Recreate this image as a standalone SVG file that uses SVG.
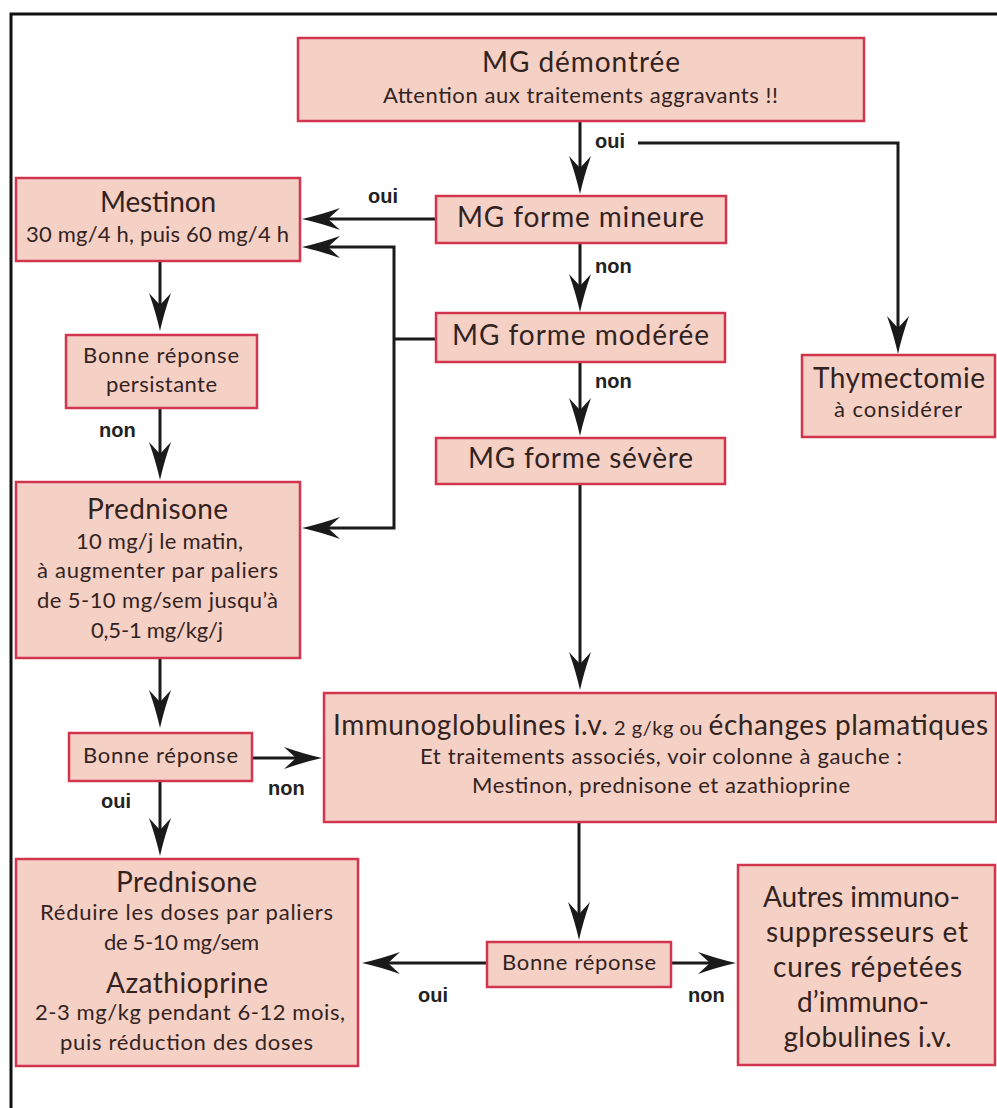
<svg xmlns="http://www.w3.org/2000/svg" width="997" height="1108" viewBox="0 0 997 1108">
<style>
.box{fill:#F5D0C5;stroke:#D2364F;stroke-width:2.5}
.t{font-family:Lato,"Liberation Sans",sans-serif;fill:#33231f;text-anchor:middle}
.big{font-size:28px}
.med{font-size:22px}
.lab{font-family:"Liberation Sans",Arial,sans-serif;font-weight:bold;font-size:20px;fill:#222}
.ln{fill:none;stroke:#1a1a1a;stroke-width:3}
.ar{marker-end:url(#ah)}
</style>
<defs>
<marker id="ah" markerUnits="userSpaceOnUse" viewBox="-14 -12 42 24" refX="0" refY="0" markerWidth="42" markerHeight="24" orient="auto" overflow="visible">
<path d="M26,0 Q8,-4 -12,-11 L0,0 L-12,11 Q8,4 26,0 Z" fill="#1a1a1a"/>
</marker>
</defs>
<rect width="997" height="1108" fill="#fff"/>
<path d="M11,1108 V14 H997" fill="none" stroke="#111" stroke-width="3"/>

<g id="connectors">
<path class="ln ar" d="M580,121 V168"/>
<path class="ln ar" d="M638,143 H898 V328"/>
<path class="ln ar" d="M580,243 V286"/>
<path class="ln ar" d="M580,362 V410"/>
<path class="ln ar" d="M580,484 V664"/>
<path class="ln ar" d="M436,219 H328"/>
<path class="ln" d="M436,339 H394"/>
<path class="ln ar" d="M394,339 V247 H328"/>
<path class="ln ar" d="M394,339 V528 H328"/>
<path class="ln ar" d="M160,261 V305"/>
<path class="ln ar" d="M160,408 V454"/>
<path class="ln ar" d="M160,658 V702"/>
<path class="ln ar" d="M252,758 H296"/>
<path class="ln ar" d="M160,781 V830"/>
<path class="ln ar" d="M579,822 V914"/>
<path class="ln ar" d="M487,963 H388"/>
<path class="ln ar" d="M671,963 H710"/>
<text class="lab" x="595" y="148">oui</text>
<text class="lab" x="595" y="273">non</text>
<text class="lab" x="595" y="388">non</text>
<text class="lab" x="368" y="203">oui</text>
<text class="lab" x="99" y="437">non</text>
<text class="lab" x="268" y="795">non</text>
<text class="lab" x="101" y="808">oui</text>
<text class="lab" x="418" y="1002">oui</text>
<text class="lab" x="688" y="1002">non</text>
</g>

<g id="mg-demontree">
<rect class="box" x="298" y="38" width="566" height="83"/>
<text class="t big" x="581" y="72" textLength="198">MG démontrée</text>
<text class="t med" x="580.5" y="103" textLength="395">Attention aux traitements aggravants !!</text>
</g>
<g id="mg-mineure">
<rect class="box" x="436" y="196" width="290" height="47"/>
<text class="t big" x="580.5" y="227" textLength="247">MG forme mineure</text>
</g>
<g id="mg-moderee">
<rect class="box" x="436" y="313" width="289" height="49"/>
<text class="t big" x="580.5" y="345" textLength="257">MG forme modérée</text>
</g>
<g id="mg-severe">
<rect class="box" x="436" y="438" width="289" height="46"/>
<text class="t big" x="580.5" y="468" textLength="225">MG forme sévère</text>
</g>
<g id="thymectomie">
<rect class="box" x="802" y="355" width="193" height="82"/>
<text class="t big" x="899" y="388" textLength="172">Thymectomie</text>
<text class="t med" x="898" y="417" textLength="128">à considérer</text>
</g>
<g id="mestinon">
<rect class="box" x="16" y="178" width="284" height="83"/>
<text class="t big" x="158" y="212" textLength="116">Mestinon</text>
<text class="t med" x="157.5" y="242" textLength="263">30 mg/4 h, puis 60 mg/4 h</text>
</g>
<g id="bonne-reponse-persistante">
<rect class="box" x="66" y="335" width="191" height="73"/>
<text class="t med" x="161" y="363" textLength="156">Bonne réponse</text>
<text class="t med" x="161.5" y="392" textLength="111">persistante</text>
</g>
<g id="prednisone-1">
<rect class="box" x="16" y="482" width="284" height="176"/>
<text class="t big" x="157.5" y="519" textLength="141">Prednisone</text>
<text class="t med" x="159.5" y="549" textLength="167">10 mg/j le matin,</text>
<text class="t med" x="157.5" y="578" textLength="241">à augmenter par paliers</text>
<text class="t med" x="157.5" y="608" textLength="241">de 5-10 mg/sem jusqu’à</text>
<text class="t med" x="157" y="638" textLength="132">0,5-1 mg/kg/j</text>
</g>
<g id="bonne-reponse-2">
<rect class="box" x="69" y="733" width="183" height="48"/>
<text class="t med" x="160.5" y="763" textLength="155">Bonne réponse</text>
</g>
<g id="immunoglobulines">
<rect class="box" x="324" y="693" width="672" height="129"/>
<text class="t big" x="660.5" y="735" textLength="655">Immunoglobulines i.v.<tspan font-size="20"> 2 g/kg ou </tspan>échanges plamatiques</text>
<text class="t med" x="661" y="764" textLength="482">Et traitements associés, voir colonne à gauche :</text>
<text class="t med" x="661" y="793" textLength="378">Mestinon, prednisone et azathioprine</text>
</g>
<g id="prednisone-2">
<rect class="box" x="16" y="859" width="342" height="207"/>
<text class="t big" x="186.5" y="892" textLength="141">Prednisone</text>
<text class="t med" x="186.5" y="920" textLength="293">Réduire les doses par paliers</text>
<text class="t med" x="181.5" y="950" textLength="155">de 5-10 mg/sem</text>
<text class="t big" x="187" y="993" textLength="162">Azathioprine</text>
<text class="t med" x="190" y="1020" textLength="310">2-3 mg/kg pendant 6-12 mois,</text>
<text class="t med" x="186.5" y="1050" textLength="253">puis réduction des doses</text>
</g>
<g id="bonne-reponse-3">
<rect class="box" x="487" y="942" width="184" height="45"/>
<text class="t med" x="579" y="970" textLength="154">Bonne réponse</text>
</g>
<g id="autres">
<rect class="box" x="738" y="865" width="257" height="200"/>
<text class="t big" x="861.5" y="907" textLength="197">Autres immuno-</text>
<text class="t big" x="867" y="942" textLength="202">suppresseurs et</text>
<text class="t big" x="867.5" y="977" textLength="189">cures répetées</text>
<text class="t big" x="863" y="1012">d’immuno-</text>
<text class="t big" x="867.5" y="1047" textLength="168">globulines i.v.</text>
</g>
</svg>
